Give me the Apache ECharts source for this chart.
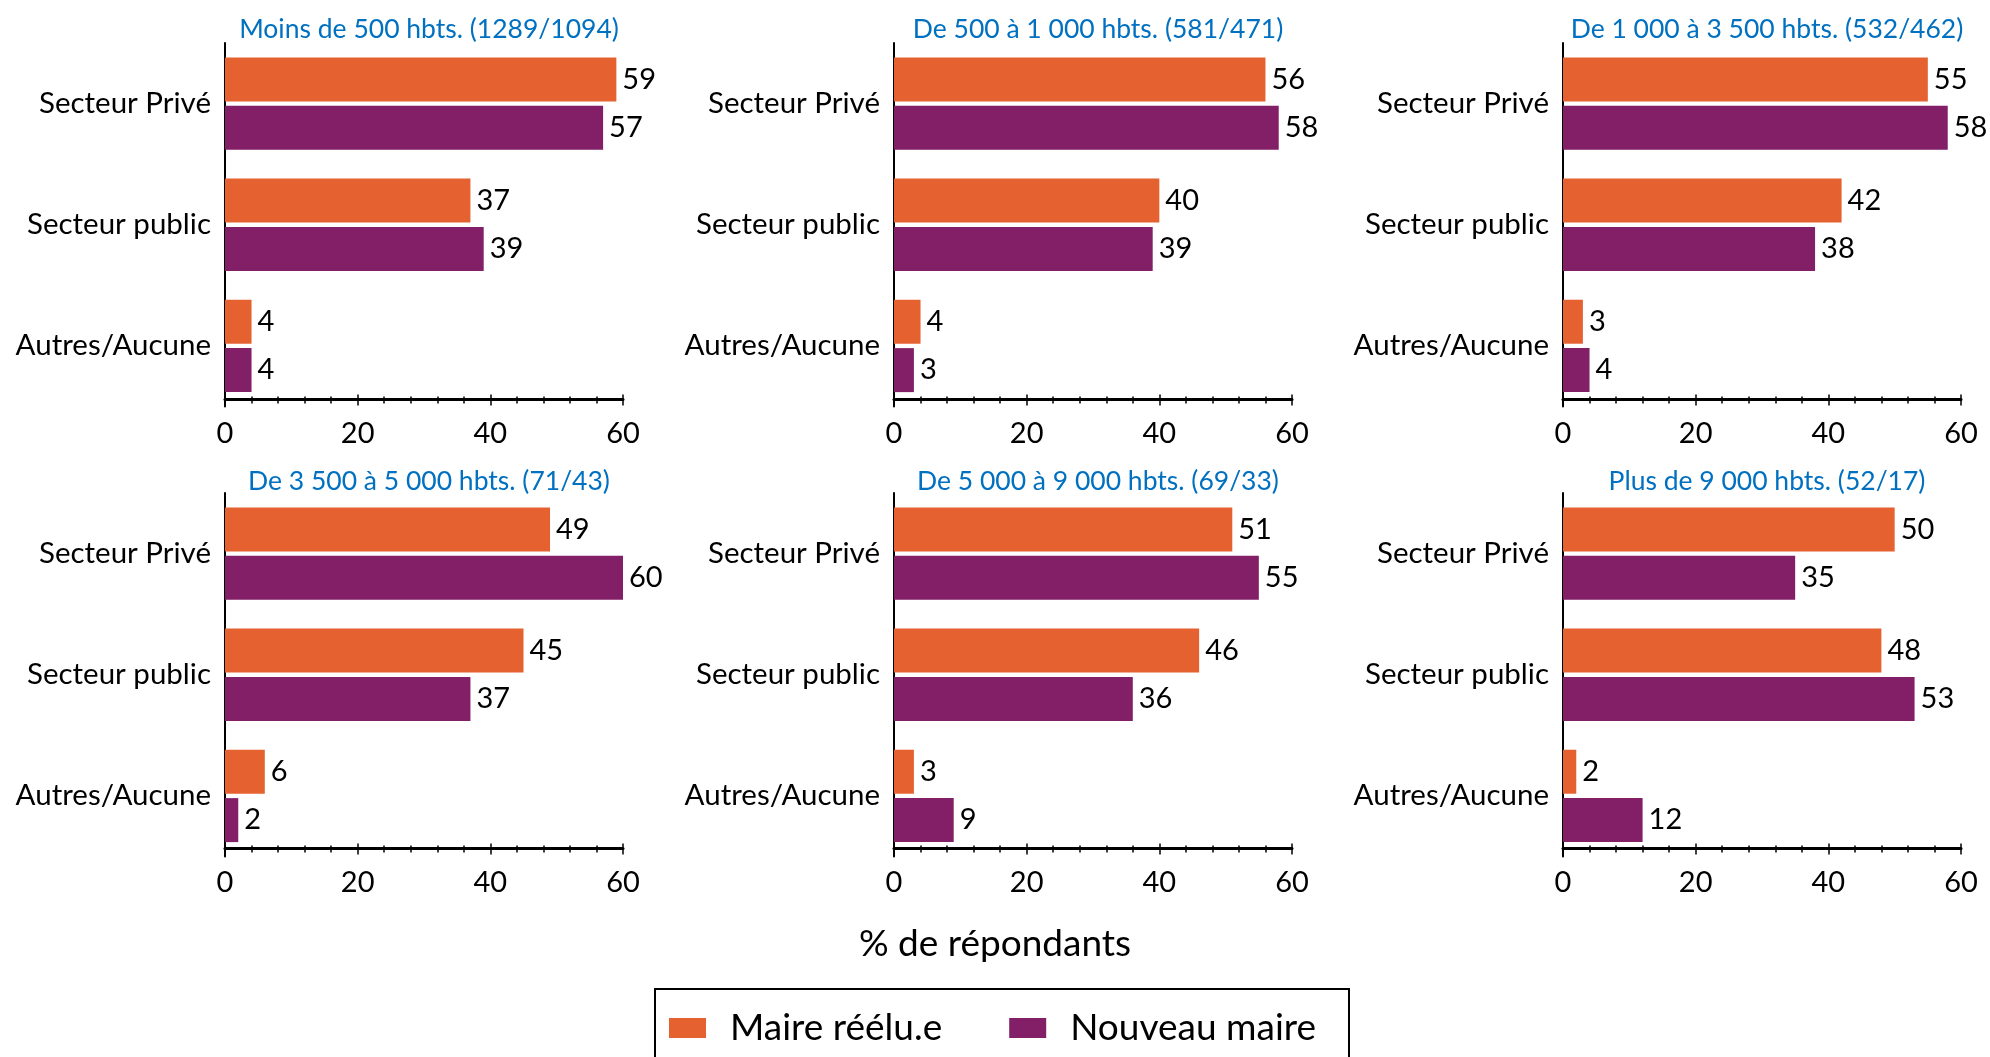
<!DOCTYPE html>
<html>
<head>
<meta charset="utf-8">
<script src="https://cdn.jsdelivr.net/npm/echarts@6/dist/echarts.min.js"></script>
<style>
html,body{margin:0;padding:0;background:#fff;}
#chart{width:1990px;height:1057px;}
</style>
</head>
<body>
<div id="chart"></div>
<script>
// ---- data ----
const categories = ['Secteur Privé', 'Secteur public', 'Autres/Aucune'];
const panelTitles = [
  'Moins de 500 hbts. (1289/1094)',
  'De 500 à 1 000 hbts. (581/471)',
  'De 1 000 à 3 500 hbts. (532/462)',
  'De 3 500 à 5 000 hbts. (71/43)',
  'De 5 000 à 9 000 hbts. (69/33)',
  'Plus de 9 000 hbts. (52/17)'
];
const seriesNames = ['Maire réélu.e', 'Nouveau maire'];
const maireReelu = [
  [59, 37, 4],
  [56, 40, 4],
  [55, 42, 3],
  [49, 45, 6],
  [51, 46, 3],
  [50, 48, 2]
];
const nouveauMaire = [
  [57, 39, 4],
  [58, 39, 3],
  [58, 38, 4],
  [60, 37, 2],
  [55, 36, 9],
  [35, 53, 12]
];
const xMin = 0, xMax = 60, xInterval = 20;
const axisTitle = '% de répondants';

// ---- layout / style ----
const FONT = 'Lato';
const colors = ['#E66130', '#821F67'];
const colLeft = [225, 894, 1563];
const plotW = 398;
const rowTop = [43, 493];
const plotH = 363.5;
const axisOffset = [-7, -8];

const grids = [], xAxes = [], yAxes = [], series = [], titles = [];
for (let p = 0; p < 6; p++) {
  const r = Math.floor(p / 3), c = p % 3;
  grids.push({left: colLeft[c], top: rowTop[r], width: plotW, height: plotH, containLabel: false});
  titles.push({
    text: panelTitles[p],
    left: colLeft[c] + plotW / 2,
    top: r === 0 ? 11 : 463,
    textAlign: 'center',
    textStyle: {fontFamily: FONT, fontSize: 26.5, fontWeight: 'normal', color: '#0070C0'}
  });
  // main axis (outside ticks + labels)
  xAxes.push({
    type: 'value', gridIndex: p, position: 'bottom', min: xMin, max: xMax, interval: xInterval,
    offset: axisOffset[r],
    axisLine: {show: true, lineStyle: {color: '#000', width: 3}},
    axisTick: {show: true, length: 6, lineStyle: {color: '#000', width: 1.5}},
    minorTick: {show: true, splitNumber: 5, length: 4, lineStyle: {color: '#000', width: 1.5}},
    splitLine: {show: false},
    axisLabel: {fontFamily: FONT, fontSize: 29, color: '#000', margin: 20}
  });
  // companion axis giving the inner half of the crossing ticks
  xAxes.push({
    type: 'value', gridIndex: p, position: 'bottom', min: xMin, max: xMax, interval: xInterval,
    offset: axisOffset[r],
    axisLine: {show: false},
    axisTick: {show: true, inside: true, length: 5, lineStyle: {color: '#000', width: 1.5}},
    minorTick: {show: true, splitNumber: 5, length: 3, lineStyle: {color: '#000', width: 1.5}},
    splitLine: {show: false},
    axisLabel: {show: false}
  });
  yAxes.push({
    type: 'category', gridIndex: p, data: categories, inverse: true,
    axisLine: {show: true, lineStyle: {color: '#000', width: 2}},
    axisTick: {show: false},
    axisLabel: {fontFamily: FONT, fontSize: 29.5, color: '#000', margin: 14, padding: [0, 0, 5, 0]}
  });
  const vals = [maireReelu[p], nouveauMaire[p]];
  for (let s = 0; s < 2; s++) {
    series.push({
      type: 'bar', name: seriesNames[s], xAxisIndex: 2 * p, yAxisIndex: p,
      data: vals[s], barWidth: 44, barGap: '10%',
      itemStyle: {color: colors[s]},
      label: {show: true, position: 'right', distance: 6, fontFamily: FONT, fontSize: 29, color: '#000'},
      animation: false
    });
  }
}

const chart = echarts.init(document.getElementById('chart'));
chart.setOption({
  animation: false,
  backgroundColor: '#fff',
  title: titles,
  grid: grids,
  xAxis: xAxes,
  yAxis: yAxes,
  series: series,
  legend: {
    data: seriesNames,
    left: 669, top: 1008, padding: 0,
    itemWidth: 37, itemHeight: 20, itemGap: 67,
    icon: 'rect',
    selectedMode: false,
    textStyle: {fontFamily: FONT, fontSize: 37, color: '#000', lineHeight: 40, padding: [0, 0, 0, 19]}
  },
  graphic: [
    {type: 'text', left: 'center', top: 926,
     style: {text: axisTitle, fontFamily: FONT, fontSize: 37, fill: '#000'}},
    {type: 'rect', shape: {x: 655, y: 989, width: 694, height: 120},
     style: {fill: 'none', stroke: '#000', lineWidth: 2}}
  ]
});
</script>
</body>
</html>
